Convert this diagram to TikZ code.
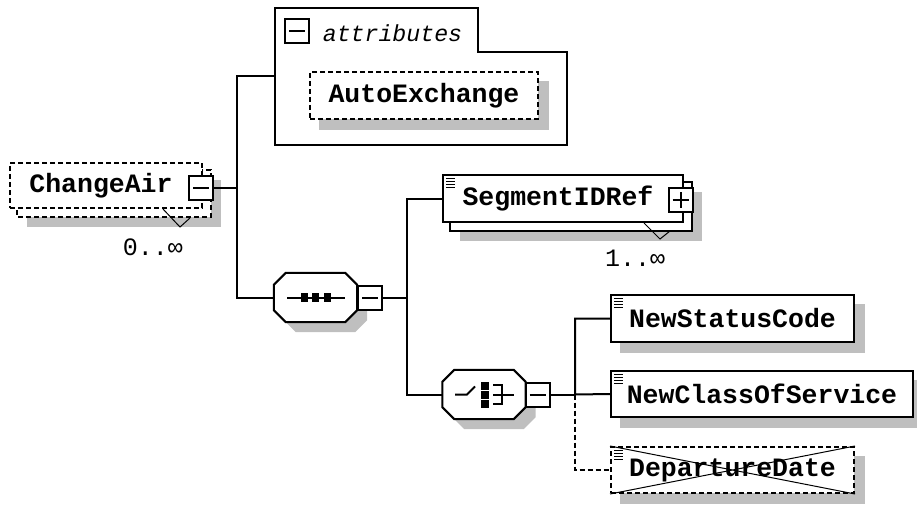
\documentclass[tikz,border=0pt]{standalone}
\usepackage{fontspec}
\setmonofont{Liberation Mono}
\usetikzlibrary{backgrounds}

\tikzset{
  elem/.style={draw, fill=white, line width=2pt, inner sep=0pt,
    font=\ttfamily\bfseries\fontsize{26.5}{28}\selectfont},
  optelem/.style={elem, dash pattern=on 5pt off 3pt},
  shade/.style={fill=black!25, draw=none},
  tog/.style={draw, fill=white, line width=2pt, minimum size=24pt, inner sep=0pt,
    path picture={\draw[line width=2pt] ([xshift=4pt]path picture bounding box.west) -- ([xshift=-4pt]path picture bounding box.east);}},
  plustog/.style={draw, fill=white, line width=2pt, minimum size=24pt, inner sep=0pt,
    path picture={\draw[line width=2pt] ([xshift=4pt]path picture bounding box.west) -- ([xshift=-4pt]path picture bounding box.east)
      ([yshift=4pt]path picture bounding box.south) -- ([yshift=-4pt]path picture bounding box.north);}},
  compbox/.style={minimum width=83pt, minimum height=49pt, inner sep=0pt},
  conn/.style={line width=2pt},
  occ/.style={font=\ttfamily\fontsize{25}{26}\selectfont, inner sep=0pt},
}
\newcommand\docicon[1]{\foreach \k in {0,...,3} \draw[line width=1pt] ([shift={(4,4+3*\k)}]#1.north west) -- ++(9,0);}
\newcommand\octpath[1]{([xshift=12pt]#1.north west) -- ([xshift=-12pt]#1.north east) -- ([yshift=-12pt]#1.north east)
  -- ([yshift=12pt]#1.south east) -- ([xshift=-12pt]#1.south east) -- ([xshift=12pt]#1.south west)
  -- ([yshift=12pt]#1.south west) -- ([yshift=-12pt]#1.north west) -- cycle}

\begin{document}
\begin{tikzpicture}[x=1pt, y=-1pt]
  \useasboundingbox (0,0) rectangle (917,505);
  % elements
  \node[optelem, minimum width=192pt, minimum height=45pt] (changeair) at (106,185.5) {ChangeAir\hspace*{10pt}};
  \node[optelem, minimum width=228pt, minimum height=47pt] (autoex) at (424,95.5) {AutoExchange};
  \node[elem, minimum width=240pt, minimum height=47pt] (segid) at (563,198.5) {SegmentIDRef\hspace*{10pt}};
  \node[elem, minimum width=243pt, minimum height=47pt] (status) at (732.5,318.5) {NewStatusCode};
  \node[elem, minimum width=302pt, minimum height=46pt] (classsvc) at (762,394) {NewClassOfService};
  \node[optelem, minimum width=243pt, minimum height=46pt] (depdate) at (732.5,470) {DepartureDate};
  \draw[line width=1pt] (depdate.north west) -- (depdate.south east) (depdate.south west) -- (depdate.north east);
  \docicon{segid} \docicon{status} \docicon{classsvc} \docicon{depdate}
  % attributes group
  \node[minimum width=292pt, minimum height=137pt, inner sep=0pt] (attr) at (421,76.5) {};
  \draw[conn] (attr.north west) -- ([shift={(-89,0)}]attr.north east) -- ([shift={(-89,44)}]attr.north east)
    -- ([shift={(0,44)}]attr.north east) -- (attr.south east) -- (attr.south west) -- cycle;
  \node[tog] (attrtog) at (297,31) {};
  \node[font=\ttfamily\itshape\fontsize{23.2}{25}\selectfont, inner sep=0pt] (attrlabel) at (392.5,33) {attributes};
  % compositors
  \node[compbox] (seq) at (315.5,297.5) {};
  \draw[conn, fill=white] \octpath{seq};
  \draw[conn] ([xshift=-28.5pt]seq.center) -- ([xshift=29.5pt]seq.center);
  \foreach \dx in {-11.5,0,11.5} \fill ([shift={(\dx-3.5,-4.5)}]seq.center) rectangle ++(7,9);
  \node[compbox] (choice) at (484,394.5) {};
  \draw[conn, fill=white] \octpath{choice};
  \draw[conn] ([shift={(-29,0)}]choice.center) -- ++(12,0) -- ++(8,-8);
  \foreach \dy in {-9,0,9} \fill ([shift={(-3,\dy-4)}]choice.center) rectangle ++(7.5,8);
  \draw[conn] ([shift={(9,-10)}]choice.center) -- ++(9,0) -- ++(0,19) -- ++(-9,0)
    ([shift={(9,0)}]choice.center) -- ++(21,0);
  % toggles
  \node[tog] (chtog) at (201,187.5) {};
  \node[plustog] (segtog) at (680.5,199.5) {};
  \node[tog] (seqtog) at (370,297.5) {};
  \node[tog] (choicetog) at (537.5,394.5) {};
  % occurrences
  \draw[line width=1pt] ([xshift=-40pt]changeair.south east) -- ++(17,18) -- ++(10,-9);
  \draw[line width=1pt] ([xshift=-40pt]segid.south east) -- ++(16,16) -- ++(10,-8);
  \node[occ] (chocc) at ([shift={(-50,38)}]changeair.south east) {0..∞};
  \node[occ] (segocc) at ([shift={(-49,35)}]segid.south east) {1..∞};
  % connectors
  \coordinate (trunk) at (237,187.5);
  \coordinate (seqbus) at (407,297.5);
  \coordinate (choicebus) at (575,394.5);
  \draw[conn] (chtog.east) -- (trunk);
  \draw[conn] (attr.west) -| (trunk) |- (seq.west);
  \draw[conn] (seqtog.east) -- (seqbus);
  \draw[conn] (segid.west) -| (seqbus) |- (choice.west);
  \draw[conn] (choicetog.east) -- (choicebus);
  \draw[conn] (status.west) -| (choicebus) -- (classsvc.west);
  \draw[conn, dash pattern=on 5pt off 3pt] (choicebus) |- (depdate.west);
  % shadows and copies
  \begin{scope}[on background layer]
    \foreach \n in {autoex,status,classsvc,depdate}
      \fill[shade] ([shift={(10,10)}]\n.north west) rectangle ([shift={(10,10)}]\n.south east);
    \foreach \n in {changeair,segid}
      \fill[shade] ([shift={(18,18)}]\n.north west) rectangle ([shift={(18,18)}]\n.south east);
    \node[compbox] (seqsh) at ([shift={(10,10)}]seq.center) {};
    \node[compbox] (choicesh) at ([shift={(10,10)}]choice.center) {};
    \fill[shade] \octpath{seqsh};
    \fill[shade] \octpath{choicesh};
    \draw[optelem] ([shift={(8,8)}]changeair.north west) rectangle ([shift={(8,8)}]changeair.south east);
    \draw[elem] ([shift={(8,8)}]segid.north west) rectangle ([shift={(8,8)}]segid.south east);
  \end{scope}
\end{tikzpicture}
\end{document}
